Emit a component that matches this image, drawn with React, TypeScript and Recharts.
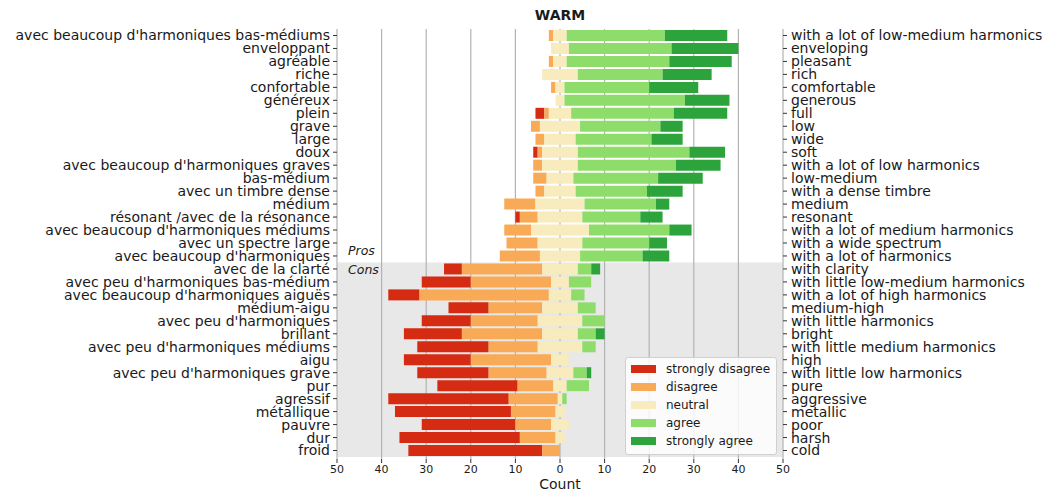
import React from 'react';
import { BarChart, Bar, XAxis, YAxis, CartesianGrid, ReferenceArea, Legend, Label } from 'recharts';

const FONT = '"DejaVu Sans", Verdana, sans-serif';
const TEXT = '#1a1a1a';

const categoriesFr = [
  "avec beaucoup d'harmoniques bas-médiums",
  'enveloppant',
  'agréable',
  'riche',
  'confortable',
  'généreux',
  'plein',
  'grave',
  'large',
  'doux',
  "avec beaucoup d'harmoniques graves",
  'bas-médium',
  'avec un timbre dense',
  'médium',
  'résonant /avec de la résonance',
  "avec beaucoup d'harmoniques médiums",
  'avec un spectre large',
  "avec beaucoup d'harmoniques",
  'avec de la clarté',
  "avec peu d'harmoniques bas-médium",
  "avec beaucoup d'harmoniques aiguës",
  'médium-aigu',
  "avec peu d'harmoniques",
  'brillant',
  "avec peu d'harmoniques médiums",
  'aigu',
  "avec peu d'harmoniques grave",
  'pur',
  'agressif',
  'métallique',
  'pauvre',
  'dur',
  'froid',
];

const categoriesEn = [
  'with a lot of low-medium harmonics',
  'enveloping',
  'pleasant',
  'rich',
  'comfortable',
  'generous',
  'full',
  'low',
  'wide',
  'soft',
  'with a lot of low harmonics',
  'low-medium',
  'with a dense timbre',
  'medium',
  'resonant',
  'with a lot of medium harmonics',
  'with a wide spectrum',
  'with a lot of harmonics',
  'with clarity',
  'with little low-medium harmonics',
  'with a lot of high harmonics',
  'medium-high',
  'with little harmonics',
  'bright',
  'with little medium harmonics',
  'high',
  'with little low harmonics',
  'pure',
  'aggressive',
  'metallic',
  'poor',
  'harsh',
  'cold',
];

const stronglyDisagree = [0, 0, 0, 0, 0, 0, 2, 0, 0, 1, 0, 0, 0, 0, 1, 0, 0, 0, 4, 11, 7, 9, 11, 13, 16, 15, 16, 18, 27, 26, 21, 27, 30];
const disagree = [1, 0, 1, 0, 1, 0, 1, 2, 2, 1, 2, 3, 2, 7, 4, 6, 7, 9, 18, 18, 29, 12, 15, 18, 11, 18, 13, 8, 11, 10, 8, 8, 4];
const neutral = [3, 4, 3, 8, 2, 2, 5, 9, 7, 8, 8, 6, 7, 11, 10, 13, 10, 9, 8, 4, 5, 8, 10, 8, 10, 4, 6, 3, 1, 2, 4, 2, 0];
const agree = [22, 23, 23, 19, 19, 27, 23, 18, 17, 25, 22, 19, 16, 16, 13, 18, 15, 14, 3, 5, 3, 4, 5, 4, 3, 0, 3, 5, 1, 0, 0, 0, 0];
const stronglyAgree = [14, 15, 14, 11, 11, 10, 12, 5, 7, 8, 10, 10, 8, 3, 5, 5, 4, 6, 2, 0, 0, 0, 0, 2, 0, 0, 1, 0, 0, 0, 0, 0, 0];

const xTicks = [-50, -40, -30, -20, -10, 0, 10, 20, 30, 40, 50];
const prosCount = 18;

const SERIES = [
  { key: 'sd', name: 'strongly disagree', color: '#d42b12' },
  { key: 'd', name: 'disagree', color: '#f8aa57' },
  { key: 'n', name: 'neutral', color: '#f8ebbe' },
  { key: 'a', name: 'agree', color: '#8edd6a' },
  { key: 'sa', name: 'strongly agree', color: '#2ca43b' },
];

const data = categoriesFr.map((fr, i) => ({
  fr,
  en: categoriesEn[i],
  offset: -(stronglyDisagree[i] + disagree[i] + neutral[i] / 2),
  sd: stronglyDisagree[i],
  d: disagree[i],
  n: neutral[i],
  a: agree[i],
  sa: stronglyAgree[i],
}));

const LegendBox = () => (
  <div
    style={{
      width: 152,
      height: 98,
      boxSizing: 'border-box',
      background: 'rgba(255,255,255,0.82)',
      border: '1px solid #d0d0d0',
      borderRadius: 3,
      padding: '2px 0 0 5px',
      fontFamily: FONT,
      fontSize: 12,
      color: TEXT,
    }}
  >
    {SERIES.map((s) => (
      <div key={s.key} style={{ display: 'flex', alignItems: 'center', height: 18 }}>
        <span style={{ display: 'inline-block', width: 25, height: 8.5, background: s.color, marginRight: 10 }} />
        <span style={{ lineHeight: '18px' }}>{s.name}</span>
      </div>
    ))}
  </div>
);

const prosLabel = (props: any) => {
  const vb = props.viewBox || {};
  return (
    <text x={vb.x + 11} y={vb.y + vb.height - 7} fontFamily={FONT} fontSize={12.5} fontStyle="italic" fill={TEXT}>
      Pros
    </text>
  );
};

const consLabel = (props: any) => {
  const vb = props.viewBox || {};
  return (
    <text x={vb.x + 11} y={vb.y + 12} fontFamily={FONT} fontSize={12.5} fontStyle="italic" fill={TEXT}>
      Cons
    </text>
  );
};

export default function App() {
  return (
    <div style={{ position: 'absolute', left: 0, top: 0, background: '#fff' }}>
      <BarChart
        width={1052}
        height={496}
        data={data}
        layout="vertical"
        margin={{ top: 29, right: 0, bottom: 0, left: 0 }}
        barSize={11}
      >
        <ReferenceArea
          yAxisId="left"
          y1={categoriesFr[prosCount]}
          y2={categoriesFr[categoriesFr.length - 1]}
          fill="#e8e8e8"
          fillOpacity={1}
          stroke="none"
          zIndex={-150}
          label={<Label content={consLabel} />}
        />
        <ReferenceArea
          yAxisId="left"
          y1={categoriesFr[0]}
          y2={categoriesFr[prosCount - 1]}
          fill="#ffffff"
          fillOpacity={0}
          stroke="none"
          zIndex={-150}
          label={<Label content={prosLabel} />}
        />
        <CartesianGrid yAxisId="left" horizontal={false} stroke="#b3b3b3" strokeWidth={1.2} zIndex={-100} />
        <XAxis
          type="number"
          domain={[-50, 50]}
          ticks={xTicks}
          tickFormatter={(v: number) => String(Math.abs(v))}
          axisLine={false}
          tickLine={{ stroke: '#333' }}
          tickSize={4}
          tickMargin={2}
          height={37}
          tick={{ fontSize: 11, fill: TEXT, fontFamily: FONT }}
        >
          <Label value="Count" position="insideBottom" offset={7} fontSize={14} fill={TEXT} fontFamily={FONT} />
        </XAxis>
        <YAxis
          yAxisId="left"
          type="category"
          dataKey="fr"
          orientation="left"
          width={337}
          axisLine={false}
          tickLine={{ stroke: '#333' }}
          tickSize={4}
          tickMargin={3}
          interval={0}
          padding={{ top: 0, bottom: 2 }}
          tick={{ fontSize: 14, fill: TEXT, fontFamily: FONT }}
        />
        <YAxis
          yAxisId="right"
          type="category"
          dataKey="en"
          orientation="right"
          width={269}
          axisLine={false}
          tickLine={{ stroke: '#333' }}
          tickSize={4}
          tickMargin={4}
          interval={0}
          padding={{ top: 0, bottom: 2 }}
          tick={{ fontSize: 14, fill: TEXT, fontFamily: FONT }}
        />
        <Bar yAxisId="left" dataKey="offset" stackId="s" fill="transparent" legendType="none" isAnimationActive={false} />
        {SERIES.map((s) => (
          <Bar
            key={s.key}
            yAxisId="left"
            dataKey={s.key}
            name={s.name}
            stackId="s"
            fill={s.color}
            isAnimationActive={false}
          />
        ))}
        <Legend
          layout="vertical"
          align="center"
          verticalAlign="middle"
          wrapperStyle={{ left: 625, top: 357, width: 152, height: 98 }}
          content={() => <LegendBox />}
        />
        <text x={560} y={20} textAnchor="middle" fontFamily={FONT} fontSize={14} fontWeight="bold" fill={TEXT}>
          WARM
        </text>
      </BarChart>
    </div>
  );
}
